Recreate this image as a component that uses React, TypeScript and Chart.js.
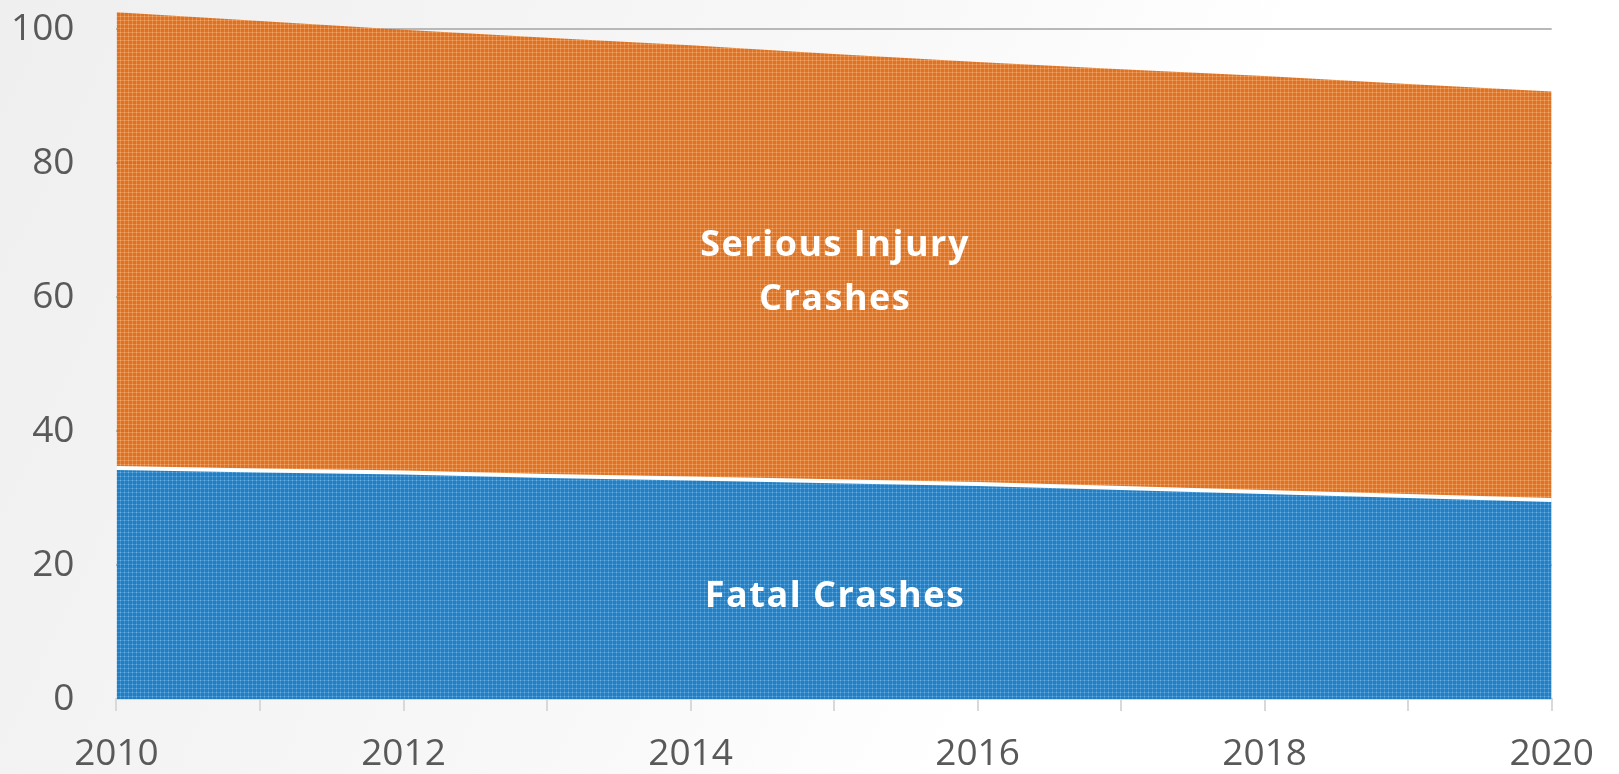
import React, { useEffect, useRef } from 'react';
import { Chart, registerables } from 'chart.js';

Chart.register(...registerables);

// ---- Data ----
const years = [2010, 2011, 2012, 2013, 2014, 2015, 2016, 2017, 2018, 2019, 2020];
const fatalCrashes = [34.5, 34.1, 33.8, 33.3, 32.9, 32.5, 32.1, 31.5, 30.9, 30.3, 29.7];
const seriousInjuryCrashes = [68.0, 67.1, 66.1, 65.4, 64.7, 63.8, 63.0, 62.5, 62.1, 61.5, 61.0];
const yTickValues = [0, 20, 40, 60, 80, 100];
const xTickLabels = ['2010', '2012', '2014', '2016', '2018', '2020'];

// In-chart area labels (text lines, anchored in data units)
const seriousLabelLines = ['Serious Injury', 'Crashes'];
const seriousLabelYears = [2015, 2015];
const seriousLabelValues = [66.1, 58.1];
const fatalLabelLines = ['Fatal Crashes'];
const fatalLabelYears = [2015];
const fatalLabelValues = [13.8];

function makePattern(base: string, line: string, dot: string): CanvasPattern | string {
  const c = document.createElement('canvas');
  c.width = 4;
  c.height = 4;
  const g = c.getContext('2d');
  if (!g) return base;
  g.fillStyle = base;
  g.fillRect(0, 0, 4, 4);
  g.fillStyle = line;
  g.fillRect(0, 0, 4, 1);
  g.fillRect(0, 0, 1, 4);
  g.fillStyle = dot;
  g.fillRect(0, 0, 1, 1);
  const p = g.createPattern(c, 'repeat');
  return p || base;
}

const areaLabelPlugin = {
  id: 'areaLabels',
  afterDatasetsDraw(chart: any) {
    const { ctx, scales } = chart;
    const x = scales.x;
    const y = scales.y;
    ctx.save();
    ctx.fillStyle = '#ffffff';
    ctx.font = 'bold 36px "Open Sans"';
    ctx.textAlign = 'center';
    ctx.textBaseline = 'alphabetic';
    (ctx as any).letterSpacing = '1.5px';
    const draw = (lines: string[], xs: number[], ys: number[]) => {
      lines.forEach((t, i) => {
        ctx.fillText(t, x.getPixelForValue(xs[i]) + 1, y.getPixelForValue(ys[i]));
      });
    };
    draw(seriousLabelLines, seriousLabelYears, seriousLabelValues);
    draw(fatalLabelLines, fatalLabelYears, fatalLabelValues);
    ctx.restore();
  },
};

export default function App() {
  const ref = useRef<HTMLCanvasElement | null>(null);

  useEffect(() => {
    document.body.style.margin = '0';
    const canvas = ref.current;
    if (!canvas) return;

    const bluePattern = makePattern('rgba(18,112,184,0.91)', 'rgba(62,148,212,0.91)', 'rgba(112,178,226,0.91)');
    const orangePattern = makePattern('rgba(216,102,18,0.91)', 'rgba(234,142,72,0.91)', 'rgba(242,172,112,0.91)');

    const chart = new Chart(canvas, {
      type: 'line',
      data: {
        datasets: [
          {
            label: 'Fatal Crashes',
            data: years.map((yr, i) => ({ x: yr, y: fatalCrashes[i] })),
            backgroundColor: bluePattern as any,
            borderColor: '#ffffff',
            borderWidth: 4,
            fill: 'origin',
            pointRadius: 0,
            tension: 0,
            clip: false as any,
          },
          {
            label: 'Serious Injury Crashes',
            data: years.map((yr, i) => ({ x: yr, y: seriousInjuryCrashes[i] })),
            backgroundColor: orangePattern as any,
            borderColor: 'rgba(0,0,0,0)',
            borderWidth: 0,
            fill: '-1',
            pointRadius: 0,
            tension: 0,
            clip: false as any,
          },
        ],
      },
      options: {
        animation: false,
        responsive: true,
        maintainAspectRatio: false,
        layout: { padding: { left: 11, right: 67, top: 9, bottom: 1 } },
        plugins: {
          legend: { display: false },
          tooltip: { enabled: false },
        },
        scales: {
          x: {
            type: 'linear',
            min: 2010,
            max: 2020,
            afterFit: (scale: any) => {
              scale.height = scale.height - scale.options.ticks.padding;
            },
            grid: {
              drawOnChartArea: false,
              drawTicks: true,
              tickLength: 12,
              color: '#d9d9d9',
              lineWidth: 2,
            },
            border: { display: true, color: '#d9d9d9', width: 2 },
            ticks: {
              stepSize: 1,
              autoSkip: false,
              maxRotation: 0,
              padding: 25,
              color: '#595959',
              font: { family: '"Open Sans"', size: 37, lineHeight: 1 },
              callback: (v: any) => (xTickLabels.includes(String(v)) ? String(v) : ''),
            },
          },
          y: {
            stacked: true,
            min: 0,
            max: 103,
            afterBuildTicks: (scale: any) => {
              scale.ticks = yTickValues.map((v) => ({ value: v }));
            },
            afterFit: (scale: any) => {
              scale.width = scale.width - scale.options.ticks.padding;
              scale.paddingTop = 0;
              scale.paddingBottom = 0;
            },
            grid: {
              drawTicks: false,
              color: (c: any) => (c.tick && c.tick.value === 0 ? 'rgba(0,0,0,0)' : '#b8b8b8'),
              lineWidth: 2,
            },
            border: { display: false },
            ticks: {
              padding: 42,
              color: '#595959',
              font: { family: '"Open Sans"', size: 37, lineHeight: 1 },
            },
          },
        },
      },
      plugins: [areaLabelPlugin],
    });

    if ((document as any).fonts && (document as any).fonts.ready) {
      (document as any).fonts.ready.then(() => chart.update());
    }

    return () => chart.destroy();
  }, []);

  return (
    <div
      style={{
        position: 'absolute',
        left: 0,
        top: 0,
        width: 1619,
        height: 774,
        background: 'linear-gradient(115deg, #efefef 0%, #f4f4f4 25%, #f9f9f9 48%, #ffffff 66%)',
      }}
    >
      <canvas ref={ref} />
    </div>
  );
}
